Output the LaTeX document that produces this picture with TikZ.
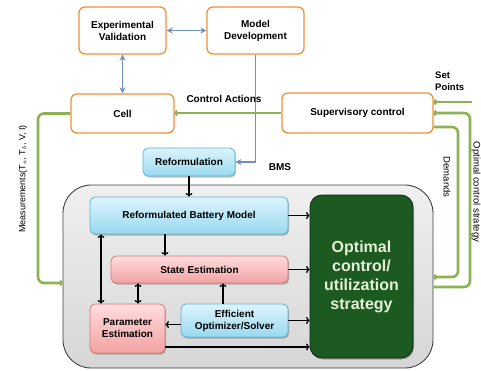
\documentclass[tikz,border=0pt]{standalone}
\usepackage{fontspec}
\setmainfont{Liberation Sans}
\usetikzlibrary{arrows.meta,shadows}
\definecolor{orb}{HTML}{F0913A}
\definecolor{grn}{HTML}{8DB254}
\definecolor{stb}{HTML}{6F8FBC}
\definecolor{bluetop}{HTML}{DDF4FC}
\definecolor{bluebot}{HTML}{98D9F0}
\definecolor{blueedge}{HTML}{5AB5D6}
\definecolor{pinktop}{HTML}{FFDCDC}
\definecolor{pinkbot}{HTML}{F3A3A3}
\definecolor{pinkedge}{HTML}{D47A7A}
\definecolor{dkg}{HTML}{1C5A22}
\definecolor{optxt}{HTML}{E4F0D4}
\tikzset{
  lbl/.style={font=\fontsize{10}{12}\selectfont},
  softshadow/.style={drop shadow={shadow xshift=1pt, shadow yshift=-1.5pt, opacity=0.25, fill=black}},
  orbox/.style={draw=orb, line width=1.3pt, fill=white, rounded corners=6pt, align=center,
    inner sep=0pt, font=\fontsize{10}{12}\selectfont\bfseries},
  bluebox/.style={draw=blueedge, line width=0.8pt, top color=bluetop, bottom color=bluebot,
    rounded corners=5pt, align=center, inner sep=0pt, softshadow, font=\fontsize{10}{12}\selectfont\bfseries},
  pinkbox/.style={draw=pinkedge, line width=0.8pt, top color=pinktop, bottom color=pinkbot,
    rounded corners=5pt, align=center, inner sep=0pt, softshadow, font=\fontsize{10}{12}\selectfont\bfseries},
  bigbox/.style={draw=black!75, line width=0.9pt, top color=gray!12, bottom color=gray!32,
    rounded corners=28pt, inner sep=0pt},
  optbox/.style={draw=black!60!dkg, line width=0.8pt, fill=dkg, rounded corners=12pt, align=center,
    inner sep=0pt, softshadow, text=optxt, font=\fontsize{16}{19}\selectfont\bfseries},
  bluearr/.style={draw=stb, line width=1.8pt, {Stealth[length=6pt,width=6pt]}-{Stealth[length=6pt,width=6pt]}},
  bluearrow/.style={draw=stb, line width=1.8pt, -{Stealth[length=6pt,width=6pt]}},
  garr/.style={draw=grn, line width=2.6pt, rounded corners=6pt, -{To[length=3pt,width=6pt]}},
  barr/.style={draw=black, line width=1.3pt, -{To[length=3.5pt,width=7pt]}},
  bdarr/.style={draw=black, line width=1.3pt, {To[length=3.5pt,width=7pt]}-{To[length=3.5pt,width=7pt]}},
}
\begin{document}
\begin{tikzpicture}[x=1pt,y=-1pt]
\useasboundingbox (0,0) rectangle (481,370);
% top boxes
\node[orbox, minimum width=87pt, minimum height=47pt] (expv) at (122.5,30.5) {Experimental\\Validation};
\node[orbox, minimum width=97pt, minimum height=47pt] (moddev) at (255.5,30.5) {Model\\Development};
\node[orbox, minimum width=103pt, minimum height=39pt] (cell) at (122.5,113.5) {Cell};
\node[orbox, minimum width=151pt, minimum height=40pt] (sup) at (357.5,113) {Supervisory control};
\node[bluebox, minimum width=92pt, minimum height=28pt] (reform) at (189,162) {Reformulation};
% big box
\node[bigbox, minimum width=370pt, minimum height=183pt] (big) at (248,276.5) {};
\node[bluebox, minimum width=198pt, minimum height=37pt] (rbm) at (189,215.5) {Reformulated Battery Model};
\node[pinkbox, minimum width=177pt, minimum height=27pt] (state) at (199.5,269.5) {State Estimation};
\node[pinkbox, minimum width=75pt, minimum height=49pt] (param) at (127.5,328.5) {Parameter\\Estimation};
\node[bluebox, minimum width=107pt, minimum height=33pt] (solver) at (234.5,320.5) {Efficient\\Optimizer/Solver};
\node[optbox, minimum width=103pt, minimum height=163pt] (opt) at (361.5,276.5) {Optimal\\control/\\utilization\\strategy};
% coordinates
\coordinate (mIn) at (38,283);
\coordinate (sp) at (472,102);
\coordinate (dem) at (458,127);
\coordinate (demb) at (458,277);
\coordinate (ost) at (470,113);
\coordinate (osb) at (470,287);
\coordinate (pb) at (0,347);
% blue connectors
\draw[bluearr] (expv.east) -- (moddev.west);
\draw[bluearr] (expv.south) -- (cell.north);
\draw[bluearrow] (moddev.south) |- (reform.east);
% green connectors
\draw[garr, rounded corners=0pt] (sup.west) -- (sup.west -| cell.east);
\draw[garr] (cell.west) -| (mIn) -- (big.west |- mIn);
\draw[garr, rounded corners=0pt] (sp) -- (sp -| sup.east);
\draw[garr] (sup.east |- dem) -- (dem) -- (demb) -- (big.east |- demb);
\draw[garr] (big.east |- osb) -- (osb) -- (ost) -- (sup.east |- ost);
% black connectors
\draw[barr] (reform.south) -- (rbm.north);
\draw[barr] (rbm.east) -- (opt.west |- rbm.east);
\draw[barr] (state.east) -- (opt.west |- state.east);
\draw[barr] (solver.east) -- (opt.west |- solver.east);
\draw[barr] (param.east |- pb) -- (opt.west |- pb);
\draw[barr] ([xshift=-24pt]rbm.south) -- ([xshift=-24pt]rbm.south |- state.north);
\draw[bdarr] ([xshift=-88pt]rbm.south) -- ([xshift=-88pt]rbm.south |- param.north);
\draw[bdarr] ([xshift=10.5pt]param.north) -- ([xshift=10.5pt]param.north |- state.south);
\draw[barr] ([xshift=-11.5pt]solver.north) -- ([xshift=-11.5pt]solver.north |- state.south);
\draw[barr] ([yshift=-4pt]solver.west) -- ([yshift=-4pt]solver.west -| param.east);
% labels
\node[lbl, font=\fontsize{10}{12}\selectfont\bfseries] (ca) at (224,99) {Control Actions};
\node[lbl, font=\fontsize{10}{12}\selectfont\bfseries] (bms) at (280,167) {BMS};
\node[lbl, font=\fontsize{9.5}{11.5}\selectfont\bfseries, align=left, anchor=north west, inner sep=0pt] (spl) at (435,72) {Set\\Points};
\node[lbl, font=\fontsize{9.5}{11}\selectfont, rotate=-90] (deml) at (447,177) {Demands};
\node[lbl, font=\fontsize{9.5}{11}\selectfont, rotate=-90, inner sep=1pt] (osl) at (476,192) {Optimal control strategy};
\node[lbl, font=\fontsize{9}{11}\selectfont, rotate=90] (meas) at (23,179) {Measurements(T$_{a}$, T$_{b}$, V, I)};
\end{tikzpicture}
\end{document}
